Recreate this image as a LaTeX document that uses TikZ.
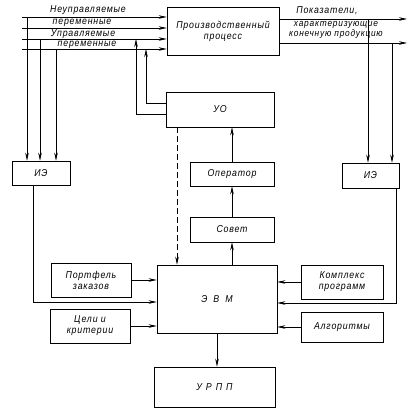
\documentclass[tikz,border=0pt]{standalone}
\usepackage{fontspec}
\setmainfont{Liberation Sans}[LetterSpace=8, FakeStretch=0.88]
\usepackage{tikz}
\usetikzlibrary{positioning,arrows.meta}
\tikzset{
  box/.style={draw, line width=0.6pt, align=center, inner sep=2pt, font=\fontsize{10}{11}\selectfont\itshape},
  lbl/.style={inner sep=0pt, align=center, font=\fontsize{10}{11}\selectfont\itshape},
  arr/.style={-{Stealth[length=8pt,width=3.5pt]}, line width=0.6pt},
  dsh/.style={arr, dash pattern=on 6pt off 3pt},
}

\begin{document}
\begin{tikzpicture}[x=1pt, y=-1pt, line width=0.6pt]
  \useasboundingbox (0,0) rectangle (413,418);
  \node[box, minimum width=112pt, minimum height=48pt] (proc) at (223,31) {Производственный\\процесс};
  \node[box, minimum width=108pt, minimum height=35pt] (uo) at (220,109.5) {УО};
  \node[box, minimum width=84pt, minimum height=24pt] (oper) at (232,174) {Оператор};
  \node[box, minimum width=84pt, minimum height=25pt] (sovet) at (232,229.5) {Совет};
  \node[box, minimum width=120pt, minimum height=68pt] (evm) at (217,299) {{\addfontfeature{LetterSpace=60}ЭВМ}};
  \node[box, minimum width=121pt, minimum height=40pt] (urpp) at (214.5,387) {{\addfontfeature{LetterSpace=40}УРПП}};
  \node[box, minimum width=58pt, minimum height=24pt] (ieL) at (41,173) {ИЭ};
  \node[box, minimum width=57pt, minimum height=25pt] (ieR) at (370.5,175.5) {ИЭ};
  \node[box, minimum width=80pt, minimum height=34pt] (portf) at (91,280) {Портфель\\заказов};
  \node[box, minimum width=80pt, minimum height=34pt] (celi) at (90,326) {Цели и\\критерии};
  \node[box, minimum width=82pt, minimum height=34pt] (kompl) at (342,282) {Комплекс\\программ};
  \node[box, minimum width=82pt, minimum height=30pt] (algo) at (342,327) {Алгоритмы};

  \foreach \i/\x/\y/\t in {1/88/10/Неуправляемые, 2/82/23/переменные, 3/83/34.5/Управляемые, 4/87/45/переменные}
    \node[lbl] (lab\i) at (\x,\y) {\t};
  \node[lbl] (pok) at (327,11) {Показатели,};
  \node[lbl, font=\fontsize{9.5}{8.5}\selectfont\itshape] (char) at (336,30) {характеризующие\\конечную продукцию};

  \foreach \i/\y in {1/17,2/28,3/39,4/49} {
    \coordinate (in\i) at (22,\y);
    \draw[arr] (in\i) -- (in\i -| proc.west);
  }
  \foreach \i/\x in {1/27,3/40,4/56} {
    \coordinate (tl\i) at (\x,0 |- in\i);
    \draw[arr] (tl\i) -- (tl\i |- ieL.north);
  }
  \coordinate (out1) at (407,19);
  \coordinate (out2) at (407,43);
  \coordinate (tr1) at (368,19);
  \coordinate (tr2) at (392,43);
  \foreach \i in {1,2} {
    \draw[arr] (out\i -| proc.east) -- (out\i);
    \draw[arr] (tr\i) -- (tr\i |- ieR.north);
  }

  \coordinate (fb1) at (136,39);
  \coordinate (fb2) at (146,49);
  \draw[arr] ([yshift=-4.5pt]uo.west) -| (fb1);
  \draw[arr] ([yshift=6.5pt]uo.west) -| (fb2);
  \draw[dsh] ([xshift=-43pt]uo.south) -- ([xshift=-40pt]evm.north);

  \draw[arr] (evm.north -| sovet) -- (sovet);
  \draw[arr] (sovet) -- (oper);
  \draw[arr] (oper) -- (oper |- uo.south);
  \draw[arr] (evm.south) -- (evm.south |- urpp.north);

  \draw[arr] ([xshift=-8pt]ieL.south) |- ([yshift=-3pt]evm.west);
  \draw[arr] ([xshift=25.5pt]ieR.south) |- ([yshift=-4pt]evm.east);
  \draw[arr] (portf) -- (portf -| evm.west);
  \draw[arr] (celi) -- (celi -| evm.west);
  \draw[arr] (kompl) -- (kompl -| evm.east);
  \draw[arr] (algo) -- (algo -| evm.east);
\end{tikzpicture}
\end{document}
